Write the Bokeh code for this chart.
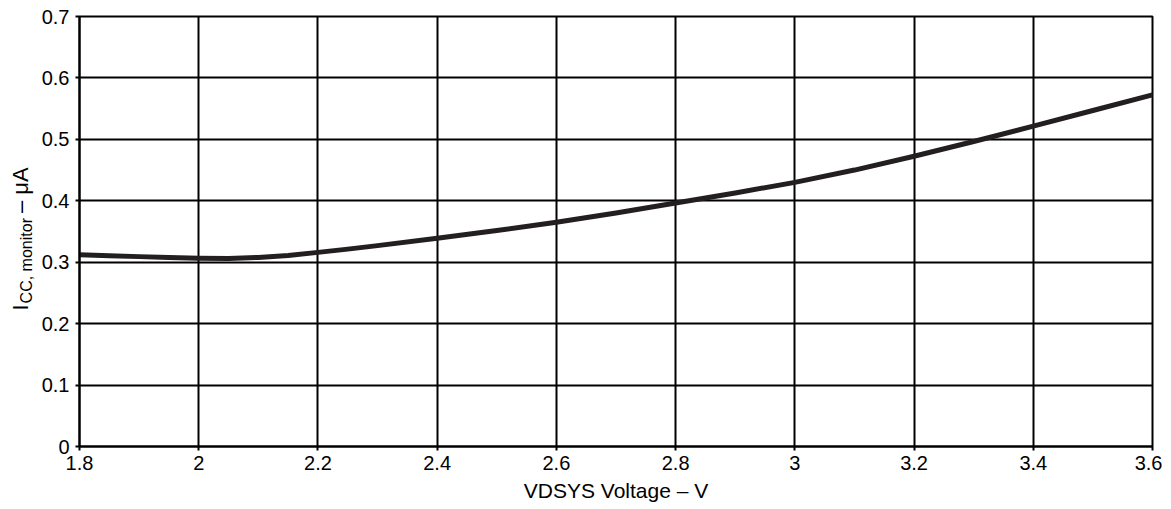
import math
from bokeh.plotting import figure
from bokeh.layouts import row
from bokeh.models import Range1d, FixedTicker
from bokeh.core.properties import value
from bokeh.embed import file_html
from bokeh.resources import INLINE

voltage = [1.8, 1.85, 1.9, 1.95, 2.0, 2.05, 2.1, 2.15, 2.2, 2.25, 2.3, 2.4, 2.5, 2.6, 2.7,
           2.8, 2.9, 3.0, 3.1, 3.2, 3.3, 3.4, 3.5, 3.6]
icc = [0.312, 0.3105, 0.3091, 0.3077, 0.3066, 0.3062, 0.3077, 0.311, 0.3160, 0.3213, 0.3270,
       0.3390, 0.3515, 0.3650, 0.3802, 0.3965, 0.4128, 0.4300, 0.4500, 0.4725, 0.4965, 0.5215,
       0.5470, 0.5725]
x_ticks = [1.8, 2.0, 2.2, 2.4, 2.6, 2.8, 3.0, 3.2, 3.4, 3.6]
y_ticks = [0, 0.1, 0.2, 0.3, 0.4, 0.5, 0.6, 0.7]
x_title = "VDSYS Voltage – V"
y_title_parts = ["I", "CC, monitor", " – μA"]

FONT = "Liberation Sans"
INK = "#000000"

TOP = 16
FRAME_H = 430
BOTTOM = 56
H = TOP + FRAME_H + BOTTOM
LEFT_W = 36

p = figure(output_backend="svg", toolbar_location=None,
           frame_width=1073, frame_height=FRAME_H,
           min_border_left=79 - LEFT_W, min_border_right=10, min_border_top=TOP,
           min_border_bottom=BOTTOM,
           x_range=Range1d(1.8, 3.6), y_range=Range1d(0, 0.7))
p.background_fill_color = "white"
p.border_fill_color = "white"
p.outline_line_color = INK
p.outline_line_width = 2

for ax in (p.xaxis[0], p.yaxis[0]):
    ax.axis_line_color = INK
    ax.axis_line_width = 2
    ax.major_tick_line_color = INK
    ax.major_tick_line_width = 2
    ax.major_tick_out = 4
    ax.major_tick_in = 0
    ax.minor_tick_line_color = None
    ax.major_label_text_font = FONT
    ax.major_label_text_font_size = "20px"
    ax.major_label_text_color = INK

p.xaxis.ticker = FixedTicker(ticks=x_ticks)
p.yaxis.ticker = FixedTicker(ticks=y_ticks)
p.xaxis.major_label_overrides = {t: ("%g" % t) for t in x_ticks}
p.yaxis.major_label_overrides = {t: ("%g" % t) for t in y_ticks}
p.xaxis.major_label_standoff = 5
p.yaxis.major_label_standoff = 6
p.xaxis.axis_label = x_title
p.xaxis.axis_label_text_font = FONT
p.xaxis.axis_label_text_font_size = "21px"
p.xaxis.axis_label_text_font_style = "normal"
p.xaxis.axis_label_text_color = INK
p.xaxis.axis_label_standoff = 6

for g in (p.xgrid[0], p.ygrid[0]):
    g.grid_line_color = INK
    g.grid_line_width = 2
    g.grid_line_alpha = 1.0

p.line(voltage, icc, line_color="#231f20", line_width=5, line_join="round", line_cap="round")

# narrow side panel holding the rotated y-axis title (coordinates = pixels, y up)
t = figure(output_backend="svg", toolbar_location=None,
           frame_width=LEFT_W, frame_height=H,
           min_border_left=0, min_border_right=0, min_border_top=0, min_border_bottom=0,
           x_range=Range1d(0, LEFT_W), y_range=Range1d(0, H))
t.axis.visible = False
t.grid.visible = False
t.outline_line_color = None
t.background_fill_color = "white"
t.border_fill_color = "white"

main_size = 22
sub_size = 16
py0 = 294  # bottom end of the title (pixels from top)
w_i = 0.278 * main_size + 1
w_sub = 5.334 * sub_size + 5

def up(py):
    return H - py

t.text(x=[20], y=[up(py0)], text=[y_title_parts[0]], angle=math.pi / 2,
       text_font=value(FONT), text_font_size=value(f"{main_size}px"), text_color=INK,
       text_align="left", text_baseline="alphabetic")
t.text(x=[26], y=[up(py0) + w_i], text=[y_title_parts[1]], angle=math.pi / 2,
       text_font=value(FONT), text_font_size=value(f"{sub_size}px"), text_color=INK,
       text_align="left", text_baseline="alphabetic")
t.text(x=[20], y=[up(py0) + w_i + w_sub], text=[y_title_parts[2]], angle=math.pi / 2,
       text_font=value(FONT), text_font_size=value(f"{main_size}px"), text_color=INK,
       text_align="left", text_baseline="alphabetic")

layout = row(t, p)
open("out.html", "w").write(file_html(layout, INLINE))
